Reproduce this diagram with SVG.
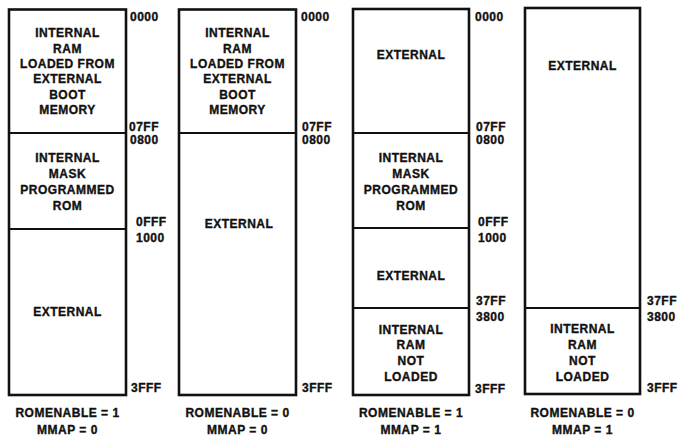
<svg xmlns="http://www.w3.org/2000/svg" width="680" height="438" viewBox="0 0 680 438">
<style>
text{font-family:"Liberation Sans",Arial,sans-serif;font-weight:bold;font-size:12px;letter-spacing:0.5px;fill:#111;stroke:#111;stroke-width:0.35}
.c{text-anchor:middle}
.box{fill:#fff;stroke:#111;stroke-width:2.6}
.div{stroke:#111;stroke-width:2.2;fill:none}
</style>
<rect width="680" height="438" fill="#fff"/>
<g id="map1">
<rect class="box" x="9" y="9.5" width="117" height="385.5"/>
<line class="div" x1="9" y1="133" x2="126" y2="133"/>
<line class="div" x1="9" y1="229" x2="126" y2="229"/>
<g id="map1-ram" class="c">
<text x="67.5" y="37">INTERNAL</text><text x="67.5" y="53">RAM</text><text x="67.5" y="68">LOADED FROM</text><text x="67.5" y="83">EXTERNAL</text><text x="67.5" y="99">BOOT</text><text x="67.5" y="114">MEMORY</text>
</g>
<g id="map1-rom" class="c">
<text x="67.5" y="162">INTERNAL</text><text x="67.5" y="178">MASK</text><text x="67.5" y="194">PROGRAMMED</text><text x="67.5" y="210">ROM</text>
</g>
<g id="map1-ext"><text class="c" x="67.5" y="316">EXTERNAL</text></g>
<g id="map1-addr">
<text x="130" y="21">0000</text><text x="129" y="131">07FF</text><text x="130" y="144">0800</text><text x="136" y="226">0FFF</text><text x="136" y="242">1000</text><text x="131" y="392">3FFF</text>
</g>
<g id="map1-cfg" class="c"><text x="67.5" y="417">ROMENABLE = 1</text><text x="67.5" y="434">MMAP = 0</text></g>
</g>
<g id="map2">
<rect class="box" x="179" y="9.5" width="117" height="385.5"/>
<line class="div" x1="179" y1="133" x2="296" y2="133"/>
<g id="map2-ram" class="c">
<text x="237.5" y="37">INTERNAL</text><text x="237.5" y="53">RAM</text><text x="237.5" y="68">LOADED FROM</text><text x="237.5" y="83">EXTERNAL</text><text x="237.5" y="99">BOOT</text><text x="237.5" y="114">MEMORY</text>
</g>
<g id="map2-ext"><text class="c" x="239" y="228">EXTERNAL</text></g>
<g id="map2-addr">
<text x="301" y="21">0000</text><text x="302" y="131">07FF</text><text x="302" y="144">0800</text><text x="302" y="392">3FFF</text>
</g>
<g id="map2-cfg" class="c"><text x="237.5" y="417">ROMENABLE = 0</text><text x="237.5" y="434">MMAP = 0</text></g>
</g>
<g id="map3">
<rect class="box" x="353" y="9" width="116" height="386"/>
<line class="div" x1="353" y1="133" x2="469" y2="133"/>
<line class="div" x1="353" y1="228" x2="469" y2="228"/>
<line class="div" x1="353" y1="308" x2="469" y2="308"/>
<g id="map3-ext1"><text class="c" x="411" y="59">EXTERNAL</text></g>
<g id="map3-rom" class="c">
<text x="411" y="162">INTERNAL</text><text x="411" y="178">MASK</text><text x="411" y="194">PROGRAMMED</text><text x="411" y="210">ROM</text>
</g>
<g id="map3-ext2"><text class="c" x="411" y="280">EXTERNAL</text></g>
<g id="map3-ram" class="c">
<text x="411" y="334">INTERNAL</text><text x="411" y="349">RAM</text><text x="411" y="365">NOT</text><text x="411" y="381">LOADED</text>
</g>
<g id="map3-addr">
<text x="475" y="21">0000</text><text x="476" y="131">07FF</text><text x="476" y="144">0800</text><text x="478" y="226">0FFF</text><text x="478" y="242">1000</text><text x="476" y="305">37FF</text><text x="476" y="321">3800</text><text x="475" y="393">3FFF</text>
</g>
<g id="map3-cfg" class="c"><text x="411" y="417">ROMENABLE = 1</text><text x="411" y="434">MMAP = 1</text></g>
</g>
<g id="map4">
<rect class="box" x="525" y="8" width="115" height="386"/>
<line class="div" x1="525" y1="308" x2="640" y2="308"/>
<g id="map4-ext"><text class="c" x="582.5" y="70">EXTERNAL</text></g>
<g id="map4-ram" class="c">
<text x="582.5" y="333">INTERNAL</text><text x="582.5" y="349">RAM</text><text x="582.5" y="365">NOT</text><text x="582.5" y="381">LOADED</text>
</g>
<g id="map4-addr">
<text x="647" y="305">37FF</text><text x="647" y="321">3800</text><text x="647" y="392">3FFF</text>
</g>
<g id="map4-cfg" class="c"><text x="582.5" y="417">ROMENABLE = 0</text><text x="582.5" y="434">MMAP = 1</text></g>
</g>
</svg>
